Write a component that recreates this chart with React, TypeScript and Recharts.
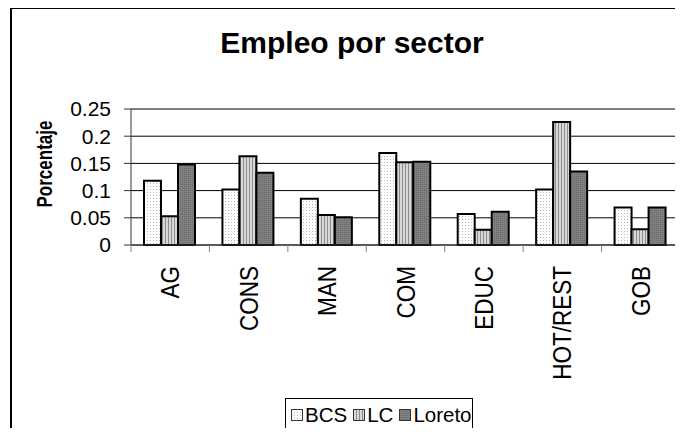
import React from "react"
import { BarChart, Bar, XAxis, YAxis, CartesianGrid, Legend } from "recharts"

const sectors = ["AG", "CONS", "MAN", "COM", "EDUC", "HOT/REST", "GOB"]
const bcs = [0.118, 0.102, 0.085, 0.169, 0.057, 0.102, 0.069]
const lc = [0.053, 0.163, 0.055, 0.152, 0.028, 0.226, 0.029]
const loreto = [0.148, 0.133, 0.051, 0.153, 0.061, 0.135, 0.069]
const yTicks = [0, 0.05, 0.1, 0.15, 0.2, 0.25]

const series = [
    { key: "BCS", fill: "url(#patBCS)" },
    { key: "LC", fill: "url(#patLC)" },
    { key: "Loreto", fill: "url(#patLoreto)" },
]

const data = sectors.map((name, i) => ({
    name,
    BCS: bcs[i],
    LC: lc[i],
    Loreto: loreto[i],
}))

const FONT = "'Liberation Sans', Arial, sans-serif"

// category labels rotated, with tick marks on the band edges
function SectorTick(props: any) {
    const { x, y, payload, index, visibleTicksCount } = props
    const half = payload?.offset || 39.2
    const ty = y + 13
    return (
        <g>
            <line x1={x - half} y1={y - 8} x2={x - half} y2={y - 1} stroke="#808080" />
            {index === visibleTicksCount - 1 && (
                <line x1={x + half} y1={y - 8} x2={x + half} y2={y - 1} stroke="#808080" />
            )}
            <text
                x={0}
                y={0}
                dy="0.36em"
                transform={`translate(${x}, ${ty}) rotate(-90) scale(1, 1.12)`}
                textAnchor="end"
                fontSize={22.5}
                fontFamily={FONT}
                fill="#000"
            >
                {payload.value}
            </text>
        </g>
    )
}

function LegendBox() {
    return (
        <div
            style={{
                border: "1px solid #000",
                height: 33,
                boxSizing: "border-box",
                display: "flex",
                alignItems: "center",
                paddingLeft: 5,
                fontFamily: FONT,
                fontSize: 20.5,
                color: "#000",
                background: "#fff",
            }}
        >
            {series.map((s) => (
                <span key={s.key} style={{ display: "flex", alignItems: "center", marginRight: 6 }}>
                    <svg width={12} height={12} style={{ marginRight: 2 }}>
                        <rect x={0.5} y={0.5} width={11} height={11} fill={s.fill} stroke="#333" />
                    </svg>
                    {s.key}
                </span>
            ))}
        </div>
    )
}

export default function App() {
    return (
        <div style={{ position: "relative", width: 683, height: 436, margin: -8, overflow: "hidden", background: "#fff" }}>
            <div
                style={{
                    position: "absolute",
                    left: 10,
                    top: 7,
                    width: 700,
                    height: 500,
                    border: "2px solid #000",
                }}
            />
            <div
                style={{
                    position: "absolute",
                    left: 0,
                    width: 704,
                    top: 25,
                    textAlign: "center",
                    fontFamily: FONT,
                    fontWeight: "bold",
                    fontSize: 30,
                    lineHeight: "36px",
                }}
            >
                Empleo por sector
            </div>
            <div
                style={{
                    position: "absolute",
                    left: 46 - 60,
                    top: 164 - 11,
                    width: 120,
                    height: 22,
                    lineHeight: "22px",
                    textAlign: "center",
                    transform: "rotate(-90deg) scaleY(1.25)",
                    fontFamily: FONT,
                    fontWeight: "bold",
                    fontSize: 17,
                }}
            >
                Porcentaje
            </div>
            <div style={{ position: "absolute", left: 0, top: 0 }}>
                <BarChart
                    width={683}
                    height={436}
                    data={data}
                    margin={{ top: 109, right: 3, left: 0, bottom: 0 }}
                    barCategoryGap={13}
                    barGap={0}
                >
                    <defs>
                        <pattern id="patBCS" width={3} height={3} patternUnits="userSpaceOnUse">
                            <rect width={3} height={3} fill="#fff" />
                            <rect width={1} height={1} fill="#b8b8b8" />
                        </pattern>
                        <pattern id="patLC" width={3} height={3} patternUnits="userSpaceOnUse">
                            <rect width={3} height={3} fill="#d8d8d8" />
                            <rect width={1} height={3} fill="#8c8c8c" />
                        </pattern>
                        <pattern id="patLoreto" width={2} height={2} patternUnits="userSpaceOnUse">
                            <rect width={2} height={2} fill="#808080" />
                            <rect width={1} height={1} fill="#6a6a6a" />
                        </pattern>
                    </defs>
                    <CartesianGrid vertical={false} stroke="#000" />
                    <XAxis
                        dataKey="name"
                        height={191}
                        interval={0}
                        tickLine={false}
                        axisLine={{ stroke: "#333" }}
                        tick={<SectorTick />}
                    />
                    <XAxis xAxisId="top" orientation="top" dataKey="name" height={0} tick={false} tickLine={false} axisLine={{ stroke: "#909090" }} />
                    <YAxis
                        width={131}
                        domain={[0, 0.25]}
                        ticks={yTicks}
                        interval={0}
                        tickSize={7}
                        tickMargin={13}
                        tickLine={{ stroke: "#333" }}
                        axisLine={{ stroke: "#333" }}
                        tick={{ fontSize: 21, fontFamily: FONT, fill: "#000" }}
                    />
                    <YAxis yAxisId="right" orientation="right" width={0} tick={false} tickLine={false} axisLine={{ stroke: "#909090" }} />
                    {series.map((s) => (
                        <Bar
                            key={s.key}
                            dataKey={s.key}
                            fill={s.fill}
                            stroke="#000"
                            strokeWidth={2}
                            isAnimationActive={false}
                        />
                    ))}
                    <Legend
                        layout="horizontal"
                        verticalAlign="middle"
                        align="center"
                        content={<LegendBox />}
                        wrapperStyle={{ left: 285, top: 398, width: 188, height: 33 }}
                    />
                </BarChart>
            </div>
        </div>
    )
}
